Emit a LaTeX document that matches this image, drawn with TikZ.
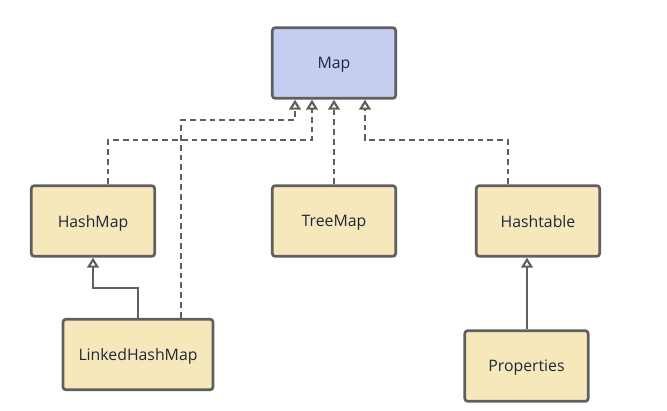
\documentclass[tikz,border=0pt]{standalone}
\usepackage{fontspec}
\setmainfont{Open Sans}
\usepackage{xcolor}
\usepackage{tikz}
\usetikzlibrary{arrows.meta}
\definecolor{mapblue}{RGB}{197,206,240}
\definecolor{clsyellow}{RGB}{247,232,188}
\definecolor{edgegray}{RGB}{95,95,95}
\definecolor{txt}{RGB}{30,40,60}

\begin{document}
\begin{tikzpicture}[x=0.03cm,y=-0.03cm,
box/.style={draw=edgegray,line width=2.3pt,rounded corners=2.5pt,fill=clsyellow,
 minimum width=3.7cm,minimum height=2.12cm,inner sep=0pt,text depth=0pt,text=txt,font=\fontsize{13.5}{15}\selectfont},
impl/.style={edgegray,line width=2.2pt,dash pattern=on 5pt off 3.4pt,-{Triangle[open,width=10pt,length=8.5pt,line width=1.8pt]}},
ext/.style={edgegray,line width=2.3pt,-{Triangle[open,width=10pt,length=8.5pt,line width=1.8pt]}}]
\useasboundingbox(0,0)rectangle(667,410);
\node[box,fill=mapblue](map)at(334,63){Map};
\node[box](hashmap)at(93,221){HashMap};
\node[box](treemap)at(334,221){TreeMap};
\node[box](hashtable)at(538,221){Hashtable};
\node[box,minimum width=4.5cm](linked)at(138,354.5){LinkedHashMap};
\node[box](props)at(526.5,366){Properties};
\coordinate(bend)at(93,288);
\draw[impl](hashmap.north-|108,0)|-(312,140)--(map.south-|312,0);
\draw[impl](linked.north-|181,0)|-(295,120)--(map.south-|295,0);
\draw[impl](treemap.north)--(map.south);
\draw[impl](hashtable.north-|508,0)|-(365,140)--(map.south-|365,0);
\draw[ext](linked.north-|138,0)|-(bend)--(hashmap.south);
\draw[ext](props.north-|527,0)--(hashtable.south-|527,0);
\end{tikzpicture}
\end{document}
